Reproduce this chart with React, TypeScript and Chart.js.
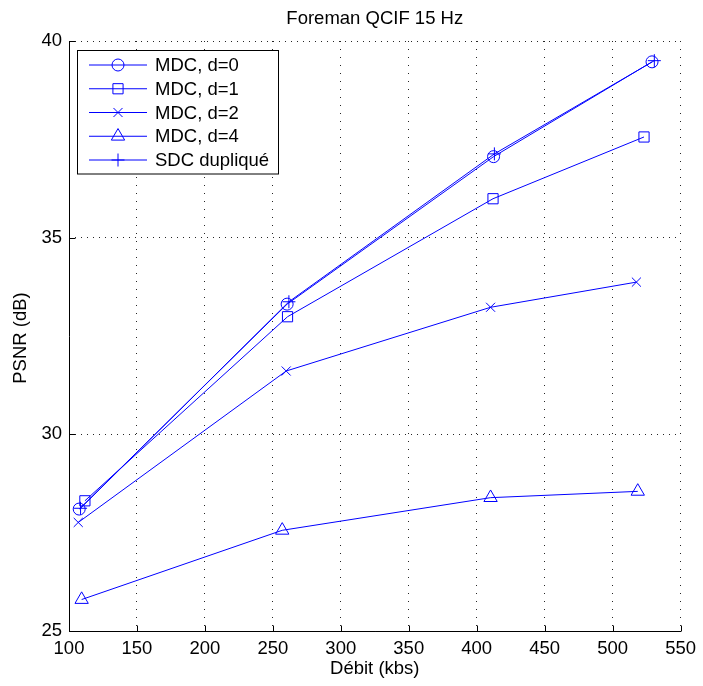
import React, { useEffect, useRef } from 'react';
import { Chart, registerables } from 'chart.js';

Chart.register(...registerables);

const chartTitle = 'Foreman QCIF 15 Hz';
const xAxisLabel = 'Débit (kbs)';
const yAxisLabel = 'PSNR (dB)';

const seriesNames = ['MDC, d=0', 'MDC, d=1', 'MDC, d=2', 'MDC, d=4', 'SDC dupliqué'];
const seriesMarkers = ['circle', 'rect', 'crossRot', 'triangle', 'cross'];
const markerRadii = [6, 7.2, 6.4, 7.7, 6.5];

const mdc0X = [107.5, 260.5, 412.4, 529.0];
const mdc0Y = [28.10, 33.31, 37.06, 39.47];
const mdc1X = [111.7, 260.8, 412.0, 523.1];
const mdc1Y = [28.31, 32.99, 35.99, 37.56];
const mdc2X = [106.8, 259.8, 410.2, 517.5];
const mdc2Y = [27.76, 31.61, 33.23, 33.87];
const mdc4X = [109.3, 256.9, 410.2, 518.5];
const mdc4Y = [25.80, 27.56, 28.39, 28.55];
const sdcX = [108.5, 261.8, 413.0, 530.7];
const sdcY = [28.12, 33.37, 37.13, 39.50];

const xTicks = [100, 150, 200, 250, 300, 350, 400, 450, 500, 550];
const yTicks = [25, 30, 35, 40];

const FONT = '"Liberation Sans", Arial, Helvetica, sans-serif';
const FS = 18.5;
const BLUE = '#0000ff';

function drawMarker(ctx: CanvasRenderingContext2D, style: string, x: number, y: number, r: number) {
  ctx.beginPath();
  if (style === 'circle') {
    ctx.arc(x, y, r, 0, Math.PI * 2);
  } else if (style === 'rect') {
    const s = r * Math.SQRT1_2;
    ctx.rect(x - s, y - s, 2 * s, 2 * s);
  } else if (style === 'crossRot') {
    const s = r * Math.SQRT1_2;
    ctx.moveTo(x - s, y - s); ctx.lineTo(x + s, y + s);
    ctx.moveTo(x - s, y + s); ctx.lineTo(x + s, y - s);
  } else if (style === 'triangle') {
    const a = r * Math.sin(Math.PI / 3);
    ctx.moveTo(x, y - r);
    ctx.lineTo(x + a, y + r / 2);
    ctx.lineTo(x - a, y + r / 2);
    ctx.closePath();
  } else if (style === 'cross') {
    ctx.moveTo(x, y - r); ctx.lineTo(x, y + r);
    ctx.moveTo(x - r, y); ctx.lineTo(x + r, y);
  }
  ctx.stroke();
}

const decorPlugin = {
  id: 'decor',
  afterDraw(chart: any) {
    const ctx: CanvasRenderingContext2D = chart.ctx;
    const a = chart.chartArea;
    const xs = chart.scales.x;
    const ys = chart.scales.y;
    ctx.save();
    ctx.strokeStyle = '#000';
    ctx.lineWidth = 1;
    ctx.setLineDash([]);
    ctx.beginPath();
    const L = Math.round(a.left) + 0.5;
    const B = Math.round(a.bottom) + 0.5;
    ctx.moveTo(L, Math.round(a.top));
    ctx.lineTo(L, B);
    ctx.lineTo(Math.round(a.right), B);
    for (const t of xTicks) {
      const px = Math.round(xs.getPixelForValue(t)) + 0.5;
      ctx.moveTo(px, B);
      ctx.lineTo(px, B - 6);
    }
    for (const t of yTicks) {
      const py = Math.round(ys.getPixelForValue(t)) + 0.5;
      ctx.moveTo(L, py);
      ctx.lineTo(L + 6, py);
    }
    ctx.stroke();

    ctx.fillStyle = '#000';
    ctx.font = `${FS}px ${FONT}`;
    ctx.textAlign = 'center';
    ctx.textBaseline = 'middle';
    const cx = (a.left + a.right) / 2;
    ctx.fillText(chartTitle, cx, 19);
    ctx.fillText(xAxisLabel, cx, 669);
    ctx.save();
    ctx.translate(21, (a.top + a.bottom) / 2 + 2);
    ctx.rotate(-Math.PI / 2);
    ctx.fillText(yAxisLabel, 0, 0);
    ctx.restore();

    const bx = 77.5, by = 50.5, bw = 201, bh = 123.5;
    ctx.fillStyle = '#fff';
    ctx.fillRect(bx, by, bw, bh);
    ctx.strokeStyle = '#000';
    ctx.strokeRect(bx, by, bw, bh);
    ctx.textAlign = 'left';
    ctx.textBaseline = 'middle';
    for (let i = 0; i < seriesNames.length; i++) {
      const y = 65 + i * 23.75;
      ctx.strokeStyle = BLUE;
      ctx.lineWidth = 1;
      ctx.beginPath();
      ctx.moveTo(89, y);
      ctx.lineTo(147, y);
      ctx.stroke();
      drawMarker(ctx, seriesMarkers[i], 118, y, markerRadii[i]);
      ctx.fillStyle = '#000';
      ctx.fillText(seriesNames[i], 155, y + 1);
    }
    ctx.restore();
  },
};

function makePoints(xv: number[], yv: number[]) {
  return xv.map((x, i) => ({ x, y: yv[i] }));
}

export default function App() {
  const ref = useRef<HTMLCanvasElement>(null);
  useEffect(() => {
    if (!ref.current) return;
    const seriesData = [
      makePoints(mdc0X, mdc0Y),
      makePoints(mdc1X, mdc1Y),
      makePoints(mdc2X, mdc2Y),
      makePoints(mdc4X, mdc4Y),
      makePoints(sdcX, sdcY),
    ];
    const chart = new Chart(ref.current, {
      type: 'line',
      data: {
        datasets: seriesData.map((d, i) => ({
          label: seriesNames[i],
          data: d,
          borderColor: BLUE,
          backgroundColor: 'rgba(0,0,0,0)',
          borderWidth: 1,
          pointStyle: seriesMarkers[i] as any,
          pointRadius: markerRadii[i],
          pointBorderWidth: 1,
          pointBorderColor: BLUE,
          pointBackgroundColor: 'rgba(0,0,0,0)',
          fill: false,
          tension: 0,
        })),
      },
      options: {
        animation: false,
        responsive: false,
        layout: { padding: { top: 41, right: 19, bottom: 0, left: 0 } },
        plugins: {
          legend: { display: false },
          title: { display: false },
          tooltip: { enabled: false },
        },
        scales: {
          x: {
            type: 'linear',
            min: 100,
            max: 550,
            afterFit: (s: any) => { s.height = 55; },
            afterBuildTicks: (s: any) => { s.ticks = xTicks.map((v) => ({ value: v })); },
            ticks: {
              color: '#000',
              font: { family: FONT, size: FS },
              padding: 7,
              maxRotation: 0,
              autoSkip: false,
            },
            grid: { color: 'rgba(0,0,0,0.85)', lineWidth: 1, drawTicks: false },
            border: { display: false, dash: [1, 7] },
          },
          y: {
            type: 'linear',
            min: 25,
            max: 40,
            afterFit: (s: any) => { s.width = 69; },
            afterBuildTicks: (s: any) => { s.ticks = yTicks.map((v) => ({ value: v })); },
            ticks: {
              color: '#000',
              font: { family: FONT, size: FS },
              padding: 7,
              autoSkip: false,
            },
            grid: { color: 'rgba(0,0,0,0.85)', lineWidth: 1, drawTicks: false },
            border: { display: false, dash: [1, 5] },
          },
        },
      },
      plugins: [decorPlugin],
    });
    return () => chart.destroy();
  }, []);
  return (
    <div style={{ position: 'fixed', left: 0, top: 0, width: 703, height: 686, background: '#fff' }}>
      <canvas ref={ref} width={703} height={686} />
    </div>
  );
}
